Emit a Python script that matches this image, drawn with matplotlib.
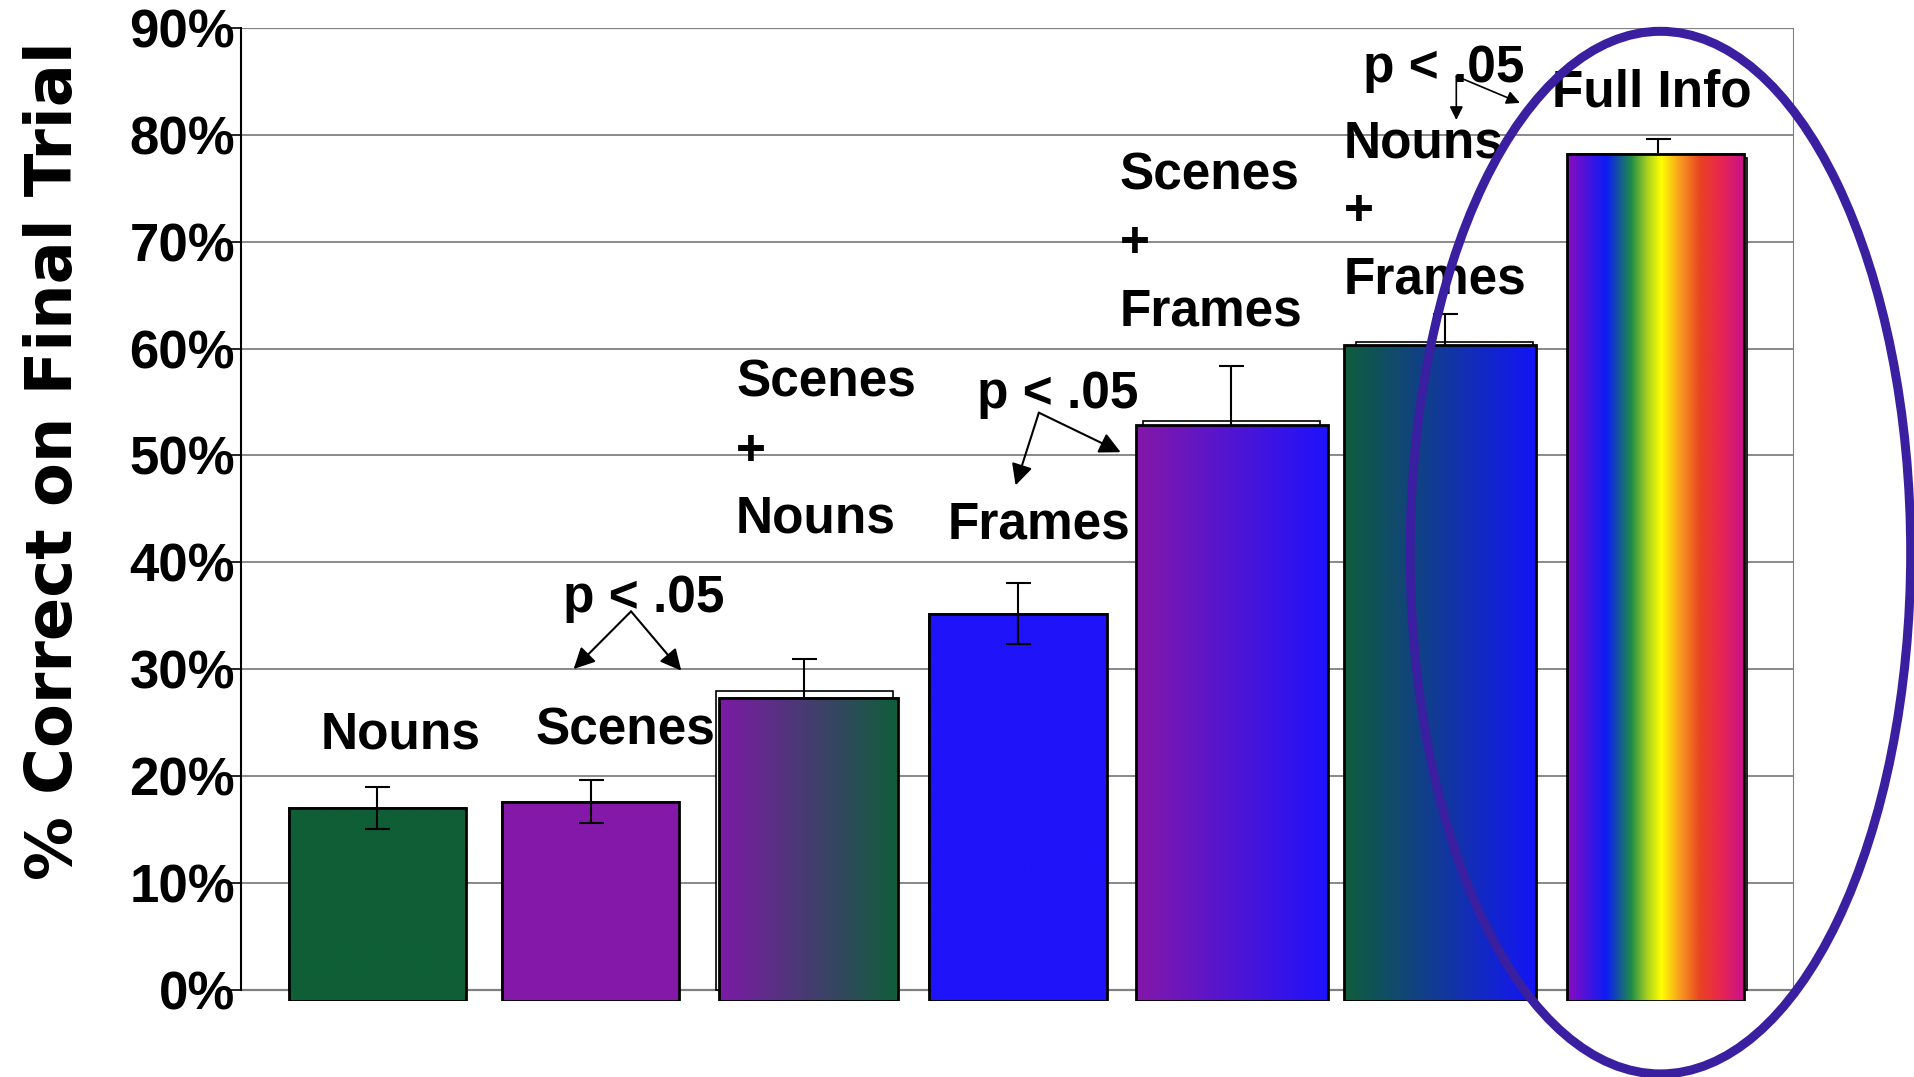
import numpy as np
import matplotlib
matplotlib.use("Agg")
import matplotlib.pyplot as plt
from matplotlib.colors import LinearSegmentedColormap
from matplotlib.patches import Rectangle, Ellipse

plt.rcParams["font.family"] = ["Liberation Sans", "DejaVu Sans"]
plt.rcParams["font.weight"] = "bold"

# data (% correct on final trial)
categories = ["Nouns", "Scenes", "Scenes\n+\nNouns", "Frames",
              "Scenes\n+\nFrames", "Nouns\n+\nFrames", "Full Info"]
means = [17.0, 17.6, 27.9, 35.2, 53.2, 60.6, 77.8]
errors = [1.95, 2.0, 3.0, 2.9, 5.2, 2.6, 1.8]
# colored (pasted) bars sit slightly off the original ones
overlay_tops = [17.0, 17.6, 27.3, 35.2, 52.8, 60.3, 78.2]
yticks = [0, 10, 20, 30, 40, 50, 60, 70, 80, 90]

# styling / layout
overlay_shift = [0.0, 0.0, 0.02, 0.0, 0.005, -0.023, -0.011]
overlay_width = [0.83, 0.83, 0.835, 0.835, 0.898, 0.898, 0.829]
overlay_bottom = -1.1
err_on_top = [True, True, False, True, False, False, False]
bar_colors = [
    ["#0f5e36", "#0f5e36"],
    ["#8419a9", "#8419a9"],
    ["#7c1aa7", "#0f5e3a"],
    ["#1f13fa", "#1f13fa"],
    ["#8418a8", "#1e12fc"],
    ["#0f5e3a", "#1414f8"],
    [(0.0, "#8a0cc0"), (0.22, "#0c1cf5"), (0.36, "#1c8c48"), (0.45, "#a8d020"),
     (0.53, "#ffff00"), (0.64, "#f89820"), (0.75, "#e84222"), (0.86, "#e8284e"),
     (1.0, "#c8108f")],
]

fig = plt.figure(figsize=(19.15, 10.77), dpi=100)
ax = fig.add_axes([0.1256, 0.0703, 0.8106, 0.9036])

x = np.arange(len(categories))

# gridlines
for t in yticks:
    ax.axhline(t, color="#808080", lw=1.6 if t in (0, 90) else 1.3, zorder=0.5)

# original chart bars (white)
ax.bar(x, means, width=0.83, color="white", edgecolor="black", lw=1.2, zorder=2)

# error bars: some hidden by the pasted bars
for i in range(len(x)):
    ax.errorbar(x[i], means[i], yerr=errors[i], fmt="none", ecolor="black",
                elinewidth=1.5, capsize=9, capthick=1.5,
                zorder=5 if err_on_top[i] else 3)

# gradient-filled bars
grad = np.linspace(0, 1, 512).reshape(1, -1)
for i in range(len(x)):
    cols = bar_colors[i]
    cmap = LinearSegmentedColormap.from_list(f"b{i}", cols)
    x0 = x[i] + overlay_shift[i] - overlay_width[i] / 2
    x1 = x0 + overlay_width[i]
    ax.imshow(grad, cmap=cmap, extent=[x0, x1, overlay_bottom, overlay_tops[i]],
              aspect="auto", interpolation="bilinear", zorder=4)
    ax.add_patch(Rectangle((x0, overlay_bottom), overlay_width[i],
                           overlay_tops[i] - overlay_bottom, fill=False,
                           edgecolor="black", lw=2, zorder=4.5))

ax.set_xlim(-0.64, 6.63)
ax.set_ylim(overlay_bottom, 90)
ax.set_xticks([])
ax.set_yticks(yticks)
ax.set_yticklabels([f"{t}%" for t in yticks], fontsize=38, fontweight="bold")
ax.tick_params(axis="y", length=7, width=1.2, pad=-3, direction="out")
ax.spines["bottom"].set_visible(False)
ax.spines["left"].set_bounds(0, 90)
ax.spines["left"].set_linewidth(1.5)
ax.spines["right"].set_bounds(0, 90)
ax.spines["right"].set_color("#808080")
ax.spines["top"].set_visible(False)

fig.text(0.028, 0.5726, "% Correct on Final Trial", rotation=90, ha="center",
         va="center", fontsize=46, fontweight="bold", family="DejaVu Sans")

# category labels
fs = 37
ls = 1.5
ax.text(0.109, 23.8, categories[0], ha="center", va="center", fontsize=fs)
ax.text(1.161, 24.2, categories[1], ha="center", va="center", fontsize=fs)
ax.text(1.681, 50.4, categories[2], ha="left", va="center", fontsize=fs, linespacing=ls)
ax.text(3.099, 43.5, categories[3], ha="center", va="center", fontsize=fs)
ax.text(3.476, 69.8, categories[4], ha="left", va="center", fontsize=fs, linespacing=ls)
ax.text(4.528, 72.8, categories[5], ha="left", va="center", fontsize=fs, linespacing=ls)
ax.text(5.969, 83.9, categories[6], ha="center", va="center", fontsize=fs)

# significance markers
ap = dict(arrowstyle="-|>", color="black", lw=1.5, mutation_scale=32,
          shrinkA=0, shrinkB=0)
ax.text(1.246, 36.6, "p < .05", ha="center", va="center", fontsize=fs, zorder=6)
ax.annotate("", xy=(0.92, 30.0), xytext=(1.189, 35.4), arrowprops=ap)
ax.annotate("", xy=(1.424, 29.85), xytext=(1.189, 35.4), arrowprops=ap)

ax.text(3.185, 55.7, "p < .05", ha="center", va="center", fontsize=fs, zorder=6)
ax.annotate("", xy=(2.99, 47.2), xytext=(3.099, 54.0), arrowprops=ap)
ax.annotate("", xy=(3.482, 50.3), xytext=(3.099, 54.0), arrowprops=ap)

ap_small = dict(ap, mutation_scale=20, lw=1.2)
ax.text(4.997, 86.2, "p < .05", ha="center", va="center", fontsize=fs, zorder=6)
ax.annotate("", xy=(5.054, 81.4), xytext=(5.054, 85.5), arrowprops=ap_small)
ax.annotate("", xy=(5.352, 83.0), xytext=(5.054, 85.5), arrowprops=ap_small)

# highlight ring around the full-info bar
ax.add_patch(Ellipse((6.01, 40.9), 2.344, 97.6, fill=False, edgecolor="#3a1fa0",
                     lw=6.5, clip_on=False, zorder=7))

fig.savefig("out.png", dpi=100)
